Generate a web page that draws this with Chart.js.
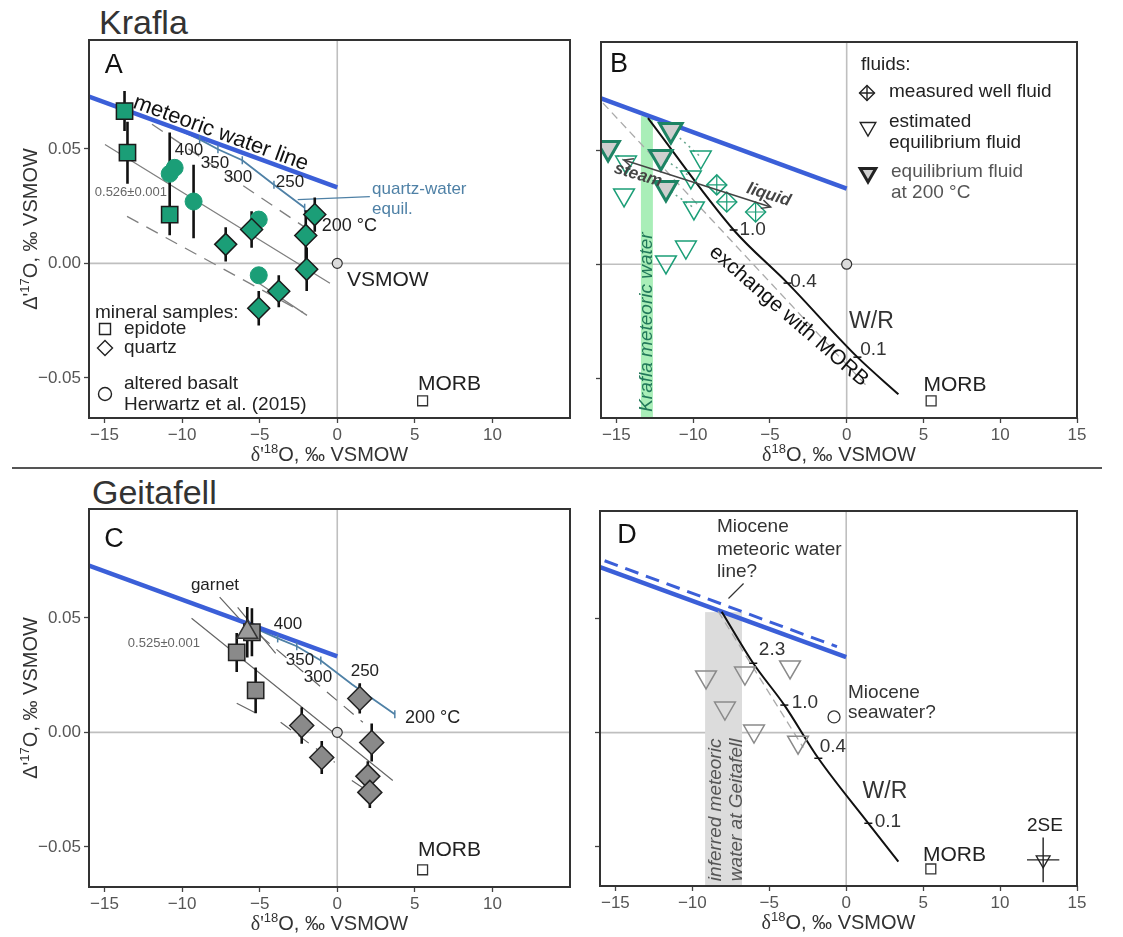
<!DOCTYPE html>
<html>
<head>
<meta charset="utf-8">
<script src="https://cdn.jsdelivr.net/npm/chart.js@4.4.1/dist/chart.umd.min.js"></script>
<style>
  body { margin: 0; background: #fff; width: 1123px; height: 937px; position: relative; overflow: hidden; font-family: "Liberation Sans", Arial, sans-serif; }
  canvas { position: absolute; }
  .site { position: absolute; font-size: 34px; color: #333; line-height: 40px; }
  .rule { position: absolute; left: 12px; width: 1090px; top: 467px; height: 2px; background: #555; }
</style>
</head>
<body>
<div class="site" style="left:99px;top:2px">Krafla</div>
<div class="site" style="left:92px;top:472px">Geitafell</div>
<div class="rule"></div>
<canvas id="panelA" width="585" height="468" style="left:0;top:0"></canvas>
<canvas id="panelB" width="538" height="468" style="left:585px;top:0"></canvas>
<canvas id="panelC" width="585" height="467" style="left:0;top:470px"></canvas>
<canvas id="panelD" width="538" height="467" style="left:585px;top:470px"></canvas>
<script>
// axis ticks
const xTicksShort = [-15, -10, -5, 0, 5, 10];
const xTicksLong = [-15, -10, -5, 0, 5, 10, 15];
const yTicks = [-0.05, 0, 0.05];

// reference points shared by all panels
const mwlX = [-16, 0];
const mwlY = [0.0728, 0.0332];
const morbX = [5.5];
const morbY = [-0.06];
const vsmowX = [0];
const vsmowY = [0];

// ---- Krafla minerals (A) ----
const aEpiX = [-13.71, -13.52, -10.8];
const aEpiY = [0.0665, 0.0483, 0.0213];
const aEpiErr = [0.0087, 0.0135, 0.009];
const aQtzX = [-7.19, -5.52, -2.03, -1.45, -1.97, -3.77, -5.06];
const aQtzY = [0.0083, 0.0148, 0.0122, 0.0213, -0.0026, -0.0122, -0.0196];
const aQtzErr = [0.0075, 0.008, 0.011, 0.0075, 0.0095, 0.007, 0.0075];
const aBasX = [-10.8, -10.48, -9.26, -5.06, -5.06];
const aBasY = [0.0391, 0.0417, 0.027, 0.0191, -0.0052];
const aBasErr = [0.018, 0, 0.016, 0, 0];
// quartz-water equilibrium curve, temperature marks at 400/350/300/250/200 °C
const aQwX = [-10.5, -8.87, -7.69, -6.12, -4.08, -2.1];
const aQwY = [0.0592, 0.0541, 0.0498, 0.045, 0.0343, 0.0243];
const aQwTempX = [-8.87, -7.69, -6.12, -4.08, -2.1];
const aQwTempY = [0.0541, 0.0498, 0.045, 0.0343, 0.0243];
const aLeader = [[-2.55, 0.0278, 2.1, 0.0291]];
const aSolidRef = [[-14.97, 0.0519, -0.47, -0.0087], [-5.05, -0.0087, -1.95, -0.0227]];
const aDashRef = [[-11.94, 0.0607, -2.08, 0.0157], [-13.55, 0.0205, -2.21, -0.0214]];

// ---- Krafla fluids (B) ----
const bWellX = [-8.46, -7.81, -5.93];
const bWellY = [0.0348, 0.0273, 0.0229];
const bEstX = [-14.37, -14.5, -9.5, -10.15, -9.95, -10.47, -11.77];
const bEstY = [0.0448, 0.0304, 0.047, 0.0383, 0.0247, 0.0075, 0.001];
const b200X = [-11.45, -12.1, -11.77, -15.54];
const b200Y = [0.0589, 0.047, 0.0334, 0.051];
const bPairs = [[0, 2], [1, 3], [2, 4], [3, 0]];
const bExchX = [-12.94, -7.36, -3.85, 0.7, 3.37];
const bExchY = [0.0641, 0.015, -0.0083, -0.0408, -0.0571];
const bWrX = [-7.36, -3.85, 0.7];
const bWrY = [0.015, -0.0083, -0.0408];
const bDash = [[-15.87, 0.0707, 1.35, -0.0538]];
const bBandX = [-13.4, -12.62];
const bBandTop = 0.065;

// ---- Geitafell minerals (C) ----
const cEpiX = [-6.48, -5.5, -5.26];
const cEpiY = [0.0349, 0.0437, 0.0183];
const cEpiErr = [0.0085, 0.0105, 0.01];
const cGrtX = [-5.8];
const cGrtY = [0.0437];
const cGrtErr = [0.011];
const cQtzX = [-2.29, -1.0, 1.45, 2.22, 1.97, 2.1];
const cQtzY = [0.003, -0.011, 0.0148, -0.0044, -0.0192, -0.0262];
const cQtzErr = [0.008, 0.0072, 0.0066, 0.0083, 0.0066, 0.0068];
const cQwX = [-5.8, -3.84, -2.61, -1.06, 0.94, 3.71];
const cQwY = [0.047, 0.041, 0.0376, 0.0314, 0.021, 0.0079];
const cQwTempX = [-3.84, -2.61, -1.06, 1.4, 3.71];
const cQwTempY = [0.041, 0.0376, 0.0314, 0.019, 0.0079];
const cSolidRef = [[-7.58, 0.059, -5.52, 0.0437], [-6.42, 0.0546, -3.97, 0.0345], [-9.39, 0.0498, 3.58, -0.021],
  [-6.48, 0.0127, -5.32, 0.0087], [0.94, -0.021, 2.1, -0.0262]];
const cDashRef = [[-5.0, 0.0424, 1.65, 0.0044], [-3.65, 0.0044, -0.16, -0.0131]];

// ---- Geitafell fluids (D) ----
const dEstX = [-9.11, -6.58, -3.65, -7.88, -5.99, -3.13];
const dEstY = [0.0245, 0.0262, 0.0289, 0.0108, 0.0007, -0.0042];
const dSeaX = [-0.79];
const dSeaY = [0.0069];
const dExchX = [-8.09, -6.04, -4.02, -1.81, 1.44, 3.39];
const dExchY = [0.0532, 0.0305, 0.0121, -0.0113, -0.0399, -0.0568];
const dWrX = [-6.04, -4.02, -1.81, 1.44];
const dWrY = [0.0305, 0.0121, -0.0113, -0.0399];
const dDash = [[-8.32, 0.0533, -2.79, -0.0066]];
const dMioX = [-15.7, -0.6];
const dMioY = [0.0756, 0.0378];
const dLeader = [[-6.67, 0.0656, -7.65, 0.059]];
const dBandX = [-9.17, -6.77];
const dBandTop = 0.053;
const d2seX = [12.8];
const d2seY = [-0.056];
const d2seErrX = [1.05];
const d2seErrY = [0.0098];

const FONT = '"Liberation Sans", Arial, sans-serif';
const GREEN = '#1b9e77';
const BLUE = '#3b5fd8';
const STEEL = '#4f81a6';
const GREY = '#7f7f7f';

function xy(xs, ys) { return xs.map((x, i) => ({ x: x, y: ys[i] })); }
function vBars(xs, ys, es) {
  const out = [];
  xs.forEach((x, i) => { if (es[i]) out.push({ x: x, y: ys[i] - es[i] }, { x: x, y: ys[i] + es[i] }, { x: x, y: null }); });
  return out;
}
function hBars(xs, ys, es) {
  const out = [];
  xs.forEach((x, i) => { if (es[i]) out.push({ x: x - es[i], y: ys[i] }, { x: x + es[i], y: ys[i] }, { x: x, y: null }); });
  return out;
}
function segs(list) {
  const out = [];
  list.forEach(s => out.push({ x: s[0], y: s[1] }, { x: s[2], y: s[3] }, { x: s[2], y: null }));
  return out;
}
function pairSegs(ax, ay, bx, by, pairs) {
  return segs(pairs.map(p => [ax[p[0]], ay[p[0]], bx[p[1]], by[p[1]]]));
}

function marks(data, style, r, fill, stroke, bw, rot) {
  return { data: data, showLine: false, pointStyle: style, pointRadius: r, pointRotation: rot || 0,
    pointBackgroundColor: fill, pointBorderColor: stroke, pointBorderWidth: bw,
    backgroundColor: fill, borderColor: stroke, borderWidth: bw };
}
function path(data, color, width, dash, extra) {
  return Object.assign({ data: data, showLine: true, pointRadius: 0, borderColor: color, borderWidth: width,
    borderDash: dash || [], fill: false, tension: 0, spanGaps: false }, extra || {});
}

function fmtX(v) { return v < 0 ? '\u2212' + Math.abs(v) : String(v); }
function fmtY(v) { return v < 0 ? '\u2212' + Math.abs(v).toFixed(2) : v.toFixed(2); }

function scales(o) {
  const grid = { drawOnChartArea: false, drawTicks: true, tickLength: 5, tickColor: '#444', tickWidth: 1.3 };
  return {
    x: {
      type: 'linear', min: -16, max: 15,
      afterBuildTicks: s => { s.ticks = o.xt.map(v => ({ value: v })); },
      afterFit: s => { s.height = o.xh; },
      ticks: { color: '#555', font: { size: 17, family: FONT }, padding: 2, maxRotation: 0, autoSkip: false, callback: v => fmtX(v) },
      grid: grid, border: { display: false }
    },
    y: {
      type: 'linear', min: -0.0675, max: 0.0975,
      afterBuildTicks: s => { s.ticks = yTicks.map(v => ({ value: v })); },
      afterFit: s => { s.width = o.yw; },
      ticks: { display: o.yLabels, color: '#555', font: { size: 17, family: FONT }, padding: 3, callback: v => fmtY(v) },
      grid: grid, border: { display: false }
    }
  };
}

// text with a raised part, used for the axis titles
function richText(ctx, parts, x, y, size, rot) {
  ctx.save();
  ctx.translate(x, y);
  ctx.rotate(rot || 0);
  ctx.fillStyle = '#333';
  ctx.textAlign = 'left';
  ctx.textBaseline = 'alphabetic';
  const fontOf = p => (p.sup ? Math.round(size * 0.66) : size) + 'px ' + (p.serif ? '"Liberation Serif", serif' : FONT);
  let w = 0;
  parts.forEach(p => { ctx.font = fontOf(p); w += ctx.measureText(p.t).width; });
  let cx = -w / 2;
  parts.forEach(p => {
    ctx.font = fontOf(p);
    ctx.fillText(p.t, cx, p.sup ? -size * 0.4 : 0);
    cx += ctx.measureText(p.t).width;
  });
  ctx.restore();
}

function drawSym(ctx, s, x, y) {
  ctx.save();
  ctx.lineWidth = s.lw || 1.4;
  ctx.strokeStyle = s.stroke || '#222';
  ctx.fillStyle = s.fill || '#fff';
  const r = s.r;
  ctx.beginPath();
  if (s.sym === 'rect') ctx.rect(x - r, y - r, 2 * r, 2 * r);
  else if (s.sym === 'circle') ctx.arc(x, y, r, 0, Math.PI * 2);
  else if (s.sym === 'diamond' || s.sym === 'diaCross') {
    ctx.moveTo(x, y - r); ctx.lineTo(x + r, y); ctx.lineTo(x, y + r); ctx.lineTo(x - r, y); ctx.closePath();
  } else if (s.sym === 'triDown') {
    ctx.moveTo(x - r * 0.866, y - r * 0.5); ctx.lineTo(x + r * 0.866, y - r * 0.5); ctx.lineTo(x, y + r); ctx.closePath();
  }
  ctx.fill();
  ctx.stroke();
  if (s.sym === 'diaCross') {
    ctx.beginPath();
    ctx.moveTo(x, y - r); ctx.lineTo(x, y + r); ctx.moveTo(x - r, y); ctx.lineTo(x + r, y);
    ctx.stroke();
  }
  ctx.restore();
}

function drawNote(ctx, n, px, py) {
  ctx.save();
  ctx.translate(px, py);
  ctx.rotate((n.rot || 0) * Math.PI / 180);
  ctx.font = (n.style ? n.style + ' ' : '') + (n.size || 19) + 'px ' + FONT;
  ctx.fillStyle = n.color || '#222';
  ctx.textAlign = n.align || 'center';
  ctx.textBaseline = 'middle';
  ctx.fillText(n.t, 0, 0);
  ctx.restore();
}

function arrowHead(ctx, x, y, ang, len) {
  ctx.beginPath();
  ctx.moveTo(x + len * Math.cos(ang + 0.45), y + len * Math.sin(ang + 0.45));
  ctx.lineTo(x, y);
  ctx.lineTo(x + len * Math.cos(ang - 0.45), y + len * Math.sin(ang - 0.45));
  ctx.stroke();
}

// panel furniture: zero lines, shaded bands, notes, legend, frame and axis titles
function notesPlugin(opts) {
  return {
    id: 'notes',
    beforeDatasetsDraw(chart) {
      const { ctx, chartArea: a, scales: { x, y } } = chart;
      ctx.save();
      ctx.strokeStyle = '#bfbfbf';
      ctx.lineWidth = 1.6;
      const x0 = x.getPixelForValue(0), y0 = y.getPixelForValue(0);
      ctx.beginPath();
      ctx.moveTo(x0, a.top); ctx.lineTo(x0, a.bottom);
      ctx.moveTo(a.left, y0); ctx.lineTo(a.right, y0);
      ctx.stroke();
      (opts.bands || []).forEach(b => {
        const xa = x.getPixelForValue(b.x[0]), xb = x.getPixelForValue(b.x[1]);
        const yt = y.getPixelForValue(b.top);
        ctx.fillStyle = b.color;
        ctx.fillRect(xa, yt, xb - xa, a.bottom - yt);
      });
      ctx.restore();
    },
    afterDatasetsDraw(chart) {
      const { ctx, chartArea: a, scales: { x, y } } = chart;
      (opts.arrows || []).forEach(ar => {
        const p0 = [x.getPixelForValue(ar[0]), y.getPixelForValue(ar[1])];
        const p1 = [x.getPixelForValue(ar[2]), y.getPixelForValue(ar[3])];
        ctx.save();
        ctx.strokeStyle = '#444';
        ctx.lineWidth = 1.5;
        ctx.beginPath(); ctx.moveTo(p0[0], p0[1]); ctx.lineTo(p1[0], p1[1]); ctx.stroke();
        const ang = Math.atan2(p1[1] - p0[1], p1[0] - p0[0]);
        arrowHead(ctx, p0[0], p0[1], ang, 10);
        arrowHead(ctx, p1[0], p1[1], ang + Math.PI, 10);
        ctx.restore();
      });
      (opts.texts || []).forEach(n => drawNote(ctx, n, x.getPixelForValue(n.x), y.getPixelForValue(n.y)));
      (opts.legendSyms || []).forEach(s => drawSym(ctx, s, a.left + s.dx, a.top + s.dy));
      (opts.legendTexts || []).forEach(n => drawNote(ctx, Object.assign({ align: 'left' }, n), a.left + n.dx, a.top + n.dy));
    },
    afterDraw(chart) {
      const { ctx, chartArea: a } = chart;
      ctx.save();
      ctx.strokeStyle = '#333';
      ctx.lineWidth = 2;
      ctx.strokeRect(a.left, a.top, a.right - a.left, a.bottom - a.top);
      ctx.restore();
      const d = opts.prime ? "\u03b4'" : '\u03b4';
      richText(ctx, [{ t: d, serif: true }, { t: '18', sup: true }, { t: 'O, \u2030 VSMOW' }],
        (a.left + a.right) / 2, a.bottom + 43, 20, 0);
      if (opts.yTitle) {
        richText(ctx, [{ t: "\u0394'" }, { t: '17', sup: true }, { t: 'O, \u2030 VSMOW' }],
          37, (a.top + a.bottom) / 2, 20, -Math.PI / 2);
      }
    }
  };
}

function makePanel(id, datasets, o, notes) {
  new Chart(document.getElementById(id), {
    type: 'scatter',
    data: { datasets: datasets },
    options: {
      responsive: false, animation: false, events: [],
      layout: { padding: o.pad },
      scales: scales(o),
      plugins: { legend: { display: false }, tooltip: { enabled: false } }
    },
    plugins: [notesPlugin(notes)]
  });
}

const vsmowMark = () => marks(xy(vsmowX, vsmowY), 'circle', 5, '#dcdcdc', '#333', 1.2);
const morbMark = () => marks(xy(morbX, morbY), 'rect', 7, '#fff', '#333', 1.3);

// ---- A ----
makePanel('panelA', [
  marks(xy(aQtzX, aQtzY), 'rectRot', 11, GREEN, '#1a1a1a', 1.5),
  marks(xy(aEpiX, aEpiY), 'rect', 11.5, GREEN, '#1a1a1a', 1.5),
  marks(xy(aBasX, aBasY), 'circle', 8.5, GREEN, GREEN, 1),
  vsmowMark(),
  morbMark(),
  path(vBars(aEpiX, aEpiY, aEpiErr).concat(vBars(aQtzX, aQtzY, aQtzErr), vBars(aBasX, aBasY, aBasErr)), '#111', 2.6),
  marks(xy(aQwTempX, aQwTempY), 'line', 4, STEEL, STEEL, 1.5, 90),
  path(xy(mwlX, mwlY), BLUE, 4.5),
  path(xy(aQwX, aQwY), STEEL, 1.8),
  path(segs(aLeader), STEEL, 1.2),
  path(segs(aSolidRef), GREY, 1.3),
  path(segs(aDashRef), GREY, 1.3, [13, 9])
], { xt: xTicksShort, xh: 50, yw: 89, yLabels: true, pad: { left: 0, top: 40, right: 15, bottom: 0 } }, {
  prime: true, yTitle: true,
  texts: [
    { x: -14.4, y: 0.0865, t: 'A', size: 27, color: '#111' },
    { x: -7.5, y: 0.0567, t: 'meteoric water line', size: 22, rot: 20, color: '#111' },
    { x: -9.56, y: 0.0493, t: '400', size: 17 },
    { x: -7.88, y: 0.0436, t: '350', size: 17 },
    { x: -6.4, y: 0.0375, t: '300', size: 17 },
    { x: -3.05, y: 0.0353, t: '250', size: 17 },
    { x: 2.24, y: 0.0323, t: 'quartz-water', size: 17, color: STEEL, align: 'left' },
    { x: 2.24, y: 0.0236, t: 'equil.', size: 17, color: STEEL, align: 'left' },
    { x: -1.0, y: 0.0162, t: '200 \u00b0C', size: 18, align: 'left' },
    { x: 0.62, y: -0.0074, t: 'VSMOW', size: 21, align: 'left' },
    { x: 5.2, y: -0.0528, t: 'MORB', size: 21, align: 'left' },
    { x: -13.3, y: 0.031, t: '0.526\u00b10.001', size: 13, color: '#666' }
  ],
  legendSyms: [
    { sym: 'rect', dx: 16, dy: 289, r: 5.5 },
    { sym: 'diamond', dx: 16, dy: 308, r: 7.5 },
    { sym: 'circle', dx: 16, dy: 354, r: 6.5 }
  ],
  legendTexts: [
    { dx: 6, dy: 273, t: 'mineral samples:' },
    { dx: 35, dy: 289, t: 'epidote' },
    { dx: 35, dy: 308, t: 'quartz' },
    { dx: 35, dy: 344, t: 'altered basalt' },
    { dx: 35, dy: 365, t: 'Herwartz et al. (2015)' }
  ]
});

// ---- B ----
makePanel('panelB', [
  marks(xy(bWellX, bWellY), 'cross', 10, 'rgba(0,0,0,0)', GREEN, 1.2),
  marks(xy(bWellX, bWellY), 'rectRot', 10, 'rgba(255,255,255,0.3)', GREEN, 1.5),
  marks(xy(b200X, b200Y), 'triangle', 13, '#cfcfcf', '#1d8464', 3, 180),
  marks(xy(bEstX, bEstY), 'triangle', 12, 'rgba(0,0,0,0)', GREEN, 1.5, 180),
  vsmowMark(),
  morbMark(),
  marks(xy(bWrX, bWrY), 'line', 4, '#111', '#111', 1.5, 0),
  path(xy(bExchX, bExchY), '#111', 2, [], { cubicInterpolationMode: 'monotone' }),
  path(xy(mwlX, mwlY), BLUE, 4.5),
  path(segs(bDash), '#aaa', 1.3, [8, 5]),
  path(pairSegs(b200X, b200Y, bEstX, bEstY, bPairs), '#6aa890', 1.5, [2, 4])
], { xt: xTicksLong, xh: 50, yw: 10, yLabels: false, pad: { left: 5, top: 42, right: 46, bottom: 0 } }, {
  prime: false,
  bands: [{ x: bBandX, top: bBandTop, color: 'rgba(140,232,160,0.75)' }],
  arrows: [[-14.5, 0.0457, -4.95, 0.0251]],
  texts: [
    { x: -14.83, y: 0.0878, t: 'B', size: 27, color: '#111' },
    { x: -13.0, y: -0.0254, t: 'Krafla meteoric water', size: 19, rot: -90, style: 'italic', color: '#22795a' },
    { x: -13.59, y: 0.0391, t: 'steam', size: 17, rot: 17, style: 'italic bold', color: '#444' },
    { x: -5.08, y: 0.0304, t: 'liquid', size: 17, rot: 17, style: 'italic bold', color: '#444' },
    { x: -6.12, y: 0.015, t: '1.0', size: 19, color: '#333' },
    { x: -2.81, y: -0.0078, t: '0.4', size: 19, color: '#333' },
    { x: 1.61, y: -0.0254, t: 'W/R', size: 23, color: '#333' },
    { x: 1.74, y: -0.0377, t: '0.1', size: 19, color: '#333' },
    { x: -3.78, y: -0.0227, t: 'exchange with MORB', size: 21, rot: 41, color: '#111' },
    { x: 5.0, y: -0.053, t: 'MORB', size: 21, align: 'left' }
  ],
  legendSyms: [
    { sym: 'diaCross', dx: 266, dy: 51, r: 7.5 },
    { sym: 'triDown', dx: 267, dy: 85, r: 9 },
    { sym: 'triDown', dx: 267, dy: 131, r: 9, lw: 3, fill: '#cfcfcf' }
  ],
  legendTexts: [
    { dx: 260, dy: 23, t: 'fluids:' },
    { dx: 288, dy: 50, t: 'measured well fluid' },
    { dx: 288, dy: 80, t: 'estimated' },
    { dx: 288, dy: 101, t: 'equilibrium fluid' },
    { dx: 290, dy: 130, t: 'equilibrium fluid', color: '#555' },
    { dx: 290, dy: 151, t: 'at 200 \u00b0C', color: '#555' }
  ]
});

// ---- C ----
const cGrey = '#8a8a8a';
makePanel('panelC', [
  marks(xy(cQtzX, cQtzY), 'rectRot', 12, cGrey, '#222', 1.5),
  marks(xy(cGrtX, cGrtY), 'triangle', 12, '#9a9a9a', '#333', 1.5),
  marks(xy(cEpiX, cEpiY), 'rect', 11.5, cGrey, '#222', 1.5),
  vsmowMark(),
  morbMark(),
  path(vBars(cEpiX, cEpiY, cEpiErr).concat(vBars(cGrtX, cGrtY, cGrtErr), vBars(cQtzX, cQtzY, cQtzErr)), '#111', 2.6),
  marks(xy(cQwTempX, cQwTempY), 'line', 4, STEEL, STEEL, 1.5, 90),
  path(xy(mwlX, mwlY), BLUE, 4.5),
  path(xy(cQwX, cQwY), STEEL, 1.8),
  path(segs(cSolidRef), '#666', 1.2),
  path(segs(cDashRef), '#666', 1.2, [13, 9])
], { xt: xTicksShort, xh: 50, yw: 89, yLabels: true, pad: { left: 0, top: 39, right: 15, bottom: 0 } }, {
  prime: true, yTitle: true,
  texts: [
    { x: -14.39, y: 0.084, t: 'C', size: 27, color: '#111' },
    { x: -7.88, y: 0.0643, t: 'garnet', size: 17 },
    { x: -11.17, y: 0.039, t: '0.525\u00b10.001', size: 13, color: '#666' },
    { x: -3.18, y: 0.0473, t: '400', size: 17 },
    { x: -2.4, y: 0.0316, t: '350', size: 17 },
    { x: -1.24, y: 0.0242, t: '300', size: 17 },
    { x: 1.78, y: 0.0268, t: '250', size: 17 },
    { x: 4.36, y: 0.0063, t: '200 \u00b0C', size: 18, align: 'left' },
    { x: 5.2, y: -0.0513, t: 'MORB', size: 21, align: 'left' }
  ]
});

// ---- D ----
makePanel('panelD', [
  marks(xy(d2seX, d2seY), 'triangle', 8, 'rgba(0,0,0,0)', '#222', 1.3, 180),
  path(vBars(d2seX, d2seY, d2seErrY).concat(hBars(d2seX, d2seY, d2seErrX)), '#222', 1.4),
  marks(xy(dEstX, dEstY), 'triangle', 12, 'rgba(0,0,0,0)', '#8a8a8a', 1.5, 180),
  marks(xy(dSeaX, dSeaY), 'circle', 6, '#fff', '#333', 1.3),
  morbMark(),
  marks(xy(dWrX, dWrY), 'line', 4, '#111', '#111', 1.5, 0),
  path(xy(dExchX, dExchY), '#111', 2, [], { cubicInterpolationMode: 'monotone' }),
  path(segs(dDash), '#aaa', 1.3, [8, 5]),
  path(xy(mwlX, mwlY), BLUE, 4.5),
  path(xy(dMioX, dMioY), BLUE, 3, [14, 8]),
  path(segs(dLeader), '#333', 1.2)
], { xt: xTicksLong, xh: 51, yw: 10, yLabels: false, pad: { left: 5, top: 41, right: 46, bottom: 0 } }, {
  prime: false,
  bands: [{ x: dBandX, top: dBandTop, color: '#dcdcdc' }],
  texts: [
    { x: -14.24, y: 0.0866, t: 'D', size: 27, color: '#111' },
    { x: -8.46, y: -0.034, t: 'inferred meteoric', size: 19, rot: -90, style: 'italic', color: '#555' },
    { x: -7.1, y: -0.034, t: 'water at Geitafell', size: 19, rot: -90, style: 'italic', color: '#555' },
    { x: -8.4, y: 0.0904, t: 'Miocene', size: 19, align: 'left', color: '#333' },
    { x: -8.4, y: 0.0803, t: 'meteoric water', size: 19, align: 'left', color: '#333' },
    { x: -8.4, y: 0.0707, t: 'line?', size: 19, align: 'left', color: '#333' },
    { x: 0.12, y: 0.0174, t: 'Miocene', size: 19, align: 'left', color: '#333' },
    { x: 0.12, y: 0.0086, t: 'seawater?', size: 19, align: 'left', color: '#333' },
    { x: -4.82, y: 0.0363, t: '2.3', size: 19, color: '#333' },
    { x: -2.68, y: 0.013, t: '1.0', size: 19, color: '#333' },
    { x: -0.86, y: -0.0063, t: '0.4', size: 19, color: '#333' },
    { x: 2.52, y: -0.0261, t: 'W/R', size: 23, color: '#333' },
    { x: 2.71, y: -0.0393, t: '0.1', size: 19, color: '#333' },
    { x: 4.99, y: -0.0539, t: 'MORB', size: 21, align: 'left' },
    { x: 12.92, y: -0.0408, t: '2SE', size: 19, color: '#222' }
  ]
});
</script>
</body>
</html>
